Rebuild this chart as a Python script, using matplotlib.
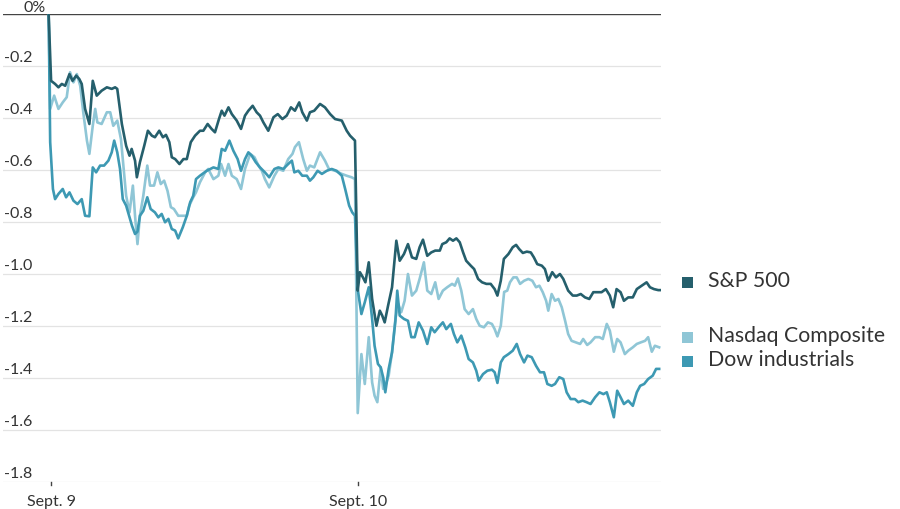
import matplotlib
matplotlib.use("Agg")
import matplotlib.pyplot as plt
from matplotlib.patches import Rectangle
import matplotlib.transforms as mtransforms

# ---------------- data (x in trading days from Sept. 9 open, y in % change) ----------------
sp_x = [-0.009, -0.001, 0.012, 0.023, 0.034, 0.045, 0.059, 0.069, 0.081, 0.091, 0.099, 0.110, 0.124,
        0.135, 0.148, 0.164, 0.181, 0.197, 0.208, 0.215, 0.230, 0.244, 0.255, 0.262, 0.273, 0.279,
        0.289, 0.303, 0.315, 0.328, 0.338, 0.352, 0.364, 0.374, 0.385, 0.393, 0.404, 0.418, 0.431,
        0.442, 0.455, 0.469, 0.485, 0.496, 0.510, 0.523, 0.534, 0.547, 0.556, 0.565, 0.578, 0.589,
        0.605, 0.619, 0.632, 0.643, 0.657, 0.670, 0.681, 0.692, 0.708, 0.725, 0.739, 0.754, 0.768,
        0.782, 0.795, 0.809, 0.819, 0.834, 0.844, 0.858, 0.877, 0.893, 0.910, 0.926, 0.948, 0.964,
        0.975, 0.991,
        1.000, 1.007, 1.017, 1.025, 1.036, 1.047, 1.061, 1.072, 1.080, 1.088, 1.099, 1.112, 1.126,
        1.137, 1.151, 1.164, 1.177, 1.191, 1.202, 1.213, 1.227, 1.240, 1.253, 1.268, 1.276, 1.289,
        1.300, 1.311, 1.322, 1.333, 1.344, 1.354, 1.369, 1.380, 1.393, 1.406, 1.420, 1.434, 1.447,
        1.456, 1.467, 1.477, 1.492, 1.506, 1.517, 1.527, 1.539, 1.552, 1.565, 1.575, 1.586, 1.601,
        1.611, 1.622, 1.635, 1.647, 1.660, 1.671, 1.687, 1.702, 1.715, 1.728, 1.742, 1.756, 1.769,
        1.785, 1.796, 1.810, 1.823, 1.834, 1.845, 1.858, 1.869, 1.883, 1.898, 1.911, 1.927, 1.943,
        1.954, 1.967, 1.981, 1.987]
sp_y = [0.0, -0.257, -0.269, -0.282, -0.269, -0.276, -0.231, -0.257, -0.237, -0.250, -0.269, -0.365,
        -0.423, -0.257, -0.314, -0.295, -0.282, -0.288, -0.282, -0.288, -0.423, -0.507, -0.545,
        -0.519, -0.564, -0.628, -0.570, -0.507, -0.449, -0.468, -0.474, -0.449, -0.474, -0.465,
        -0.493, -0.551, -0.558, -0.577, -0.558, -0.558, -0.493, -0.468, -0.449, -0.449, -0.423,
        -0.442, -0.455, -0.404, -0.372, -0.391, -0.359, -0.385, -0.410, -0.442, -0.391, -0.372,
        -0.353, -0.378, -0.391, -0.417, -0.449, -0.397, -0.385, -0.404, -0.391, -0.359, -0.372,
        -0.340, -0.378, -0.410, -0.378, -0.372, -0.346, -0.359, -0.385, -0.404, -0.410, -0.449,
        -0.468, -0.487,
        -1.064, -0.993, -1.013, -1.032, -0.955, -1.096, -1.199, -1.141, -1.160, -1.186, -1.122,
        -1.051, -0.872, -0.949, -0.923, -0.885, -0.936, -0.942, -0.897, -0.868, -0.930, -0.917,
        -0.910, -0.910, -0.885, -0.878, -0.863, -0.872, -0.863, -0.878, -0.917, -0.949, -0.968,
        -0.981, -1.019, -1.032, -1.038, -1.038, -1.058, -1.083, -1.026, -0.942, -0.923, -0.897,
        -0.888, -0.904, -0.919, -0.914, -0.917, -0.936, -0.962, -0.968, -0.981, -1.026, -0.993,
        -1.013, -1.000, -1.019, -1.064, -1.083, -1.083, -1.077, -1.090, -1.096, -1.070, -1.070,
        -1.070, -1.058, -1.083, -1.128, -1.058, -1.070, -1.103, -1.090, -1.090, -1.058, -1.045,
        -1.032, -1.051, -1.058, -1.062, -1.062]

nasdaq_x = [-0.009, -0.004, 0.009, 0.023, 0.037, 0.050, 0.061, 0.072, 0.083, 0.094, 0.104, 0.116,
            0.124, 0.135, 0.143, 0.150, 0.164, 0.181, 0.192, 0.202, 0.215, 0.227, 0.235, 0.244,
            0.255, 0.266, 0.273, 0.281, 0.289, 0.300, 0.313, 0.322, 0.335, 0.346, 0.357, 0.368,
            0.379, 0.390, 0.400, 0.414, 0.429, 0.442, 0.450, 0.463, 0.472, 0.485, 0.502, 0.512,
            0.529, 0.545, 0.554, 0.567, 0.578, 0.589, 0.605, 0.619, 0.632, 0.649, 0.663, 0.676,
            0.687, 0.697, 0.711, 0.728, 0.741, 0.757, 0.773, 0.787, 0.795, 0.808, 0.822, 0.834,
            0.844, 0.858, 0.877, 0.893, 0.906, 0.926, 0.948, 0.964, 0.980, 0.991,
            1.000, 1.012, 1.023, 1.036, 1.047, 1.055, 1.064, 1.075, 1.083, 1.090, 1.101, 1.112,
            1.123, 1.132, 1.142, 1.153, 1.164, 1.177, 1.191, 1.202, 1.216, 1.227, 1.240, 1.253,
            1.264, 1.278, 1.292, 1.308, 1.317, 1.327, 1.338, 1.349, 1.362, 1.376, 1.387, 1.398,
            1.412, 1.425, 1.438, 1.447, 1.456, 1.467, 1.478, 1.488, 1.497, 1.508, 1.519, 1.530,
            1.543, 1.557, 1.570, 1.582, 1.593, 1.604, 1.615, 1.622, 1.633, 1.644, 1.655, 1.666,
            1.677, 1.687, 1.698, 1.712, 1.726, 1.736, 1.749, 1.760, 1.775, 1.789, 1.800, 1.813,
            1.823, 1.836, 1.847, 1.858, 1.872, 1.883, 1.898, 1.911, 1.924, 1.938, 1.948, 1.960,
            1.970, 1.984]
nasdaq_y = [0.0, -0.365, -0.314, -0.365, -0.340, -0.320, -0.224, -0.263, -0.231, -0.276, -0.378,
            -0.487, -0.538, -0.430, -0.365, -0.417, -0.423, -0.378, -0.378, -0.430, -0.410, -0.481,
            -0.583, -0.699, -0.763, -0.660, -0.776, -0.885, -0.776, -0.699, -0.583, -0.660, -0.660,
            -0.609, -0.654, -0.641, -0.680, -0.743, -0.750, -0.776, -0.776, -0.776, -0.737, -0.705,
            -0.686, -0.647, -0.609, -0.596, -0.635, -0.622, -0.577, -0.622, -0.577, -0.622, -0.635,
            -0.673, -0.596, -0.538, -0.551, -0.583, -0.603, -0.635, -0.667, -0.622, -0.596, -0.603,
            -0.558, -0.538, -0.512, -0.493, -0.558, -0.603, -0.583, -0.590, -0.532, -0.564, -0.596,
            -0.603, -0.615, -0.622, -0.628, -0.635,
            -1.535, -1.308, -1.423, -1.243, -1.417, -1.468, -1.493, -1.359, -1.442, -1.430, -1.391,
            -1.301, -1.173, -1.115, -1.147, -1.103, -1.000, -1.083, -1.064, -1.019, -0.955, -1.064,
            -1.077, -1.032, -1.096, -1.064, -1.051, -1.038, -1.045, -1.017, -1.064, -1.135, -1.154,
            -1.135, -1.173, -1.199, -1.205, -1.186, -1.192, -1.212, -1.240, -1.199, -1.069, -1.064,
            -1.032, -1.013, -1.013, -1.038, -1.026, -1.019, -1.026, -1.051, -1.045, -1.070, -1.103,
            -1.141, -1.077, -1.103, -1.096, -1.128, -1.180, -1.231, -1.257, -1.263, -1.269, -1.250,
            -1.273, -1.263, -1.243, -1.243, -1.250, -1.192, -1.218, -1.299, -1.250, -1.263, -1.308,
            -1.295, -1.282, -1.269, -1.263, -1.257, -1.243, -1.299, -1.276, -1.282]

dow_x = [-0.009, -0.004, 0.005, 0.012, 0.023, 0.037, 0.048, 0.059, 0.072, 0.085, 0.099, 0.110, 0.124,
         0.135, 0.146, 0.159, 0.172, 0.186, 0.197, 0.205, 0.215, 0.224, 0.233, 0.244, 0.255, 0.263,
         0.273, 0.281, 0.289, 0.300, 0.313, 0.324, 0.338, 0.349, 0.360, 0.371, 0.382, 0.393, 0.404,
         0.414, 0.429, 0.442, 0.453, 0.463, 0.472, 0.485, 0.507, 0.529, 0.545, 0.556, 0.567, 0.581,
         0.594, 0.608, 0.619, 0.632, 0.643, 0.654, 0.667, 0.681, 0.697, 0.711, 0.728, 0.741, 0.757,
         0.773, 0.785, 0.793, 0.806, 0.819, 0.834, 0.844, 0.855, 0.869, 0.883, 0.899, 0.915, 0.931,
         0.948, 0.959, 0.972, 0.982, 0.991,
         1.000, 1.003, 1.012, 1.023, 1.036, 1.047, 1.055, 1.066, 1.075, 1.083, 1.090, 1.101, 1.112,
         1.123, 1.129, 1.137, 1.151, 1.164, 1.175, 1.186, 1.199, 1.213, 1.227, 1.240, 1.251, 1.268,
         1.278, 1.289, 1.304, 1.314, 1.325, 1.338, 1.351, 1.362, 1.376, 1.387, 1.395, 1.409, 1.423,
         1.438, 1.447, 1.456, 1.467, 1.477, 1.492, 1.506, 1.519, 1.530, 1.543, 1.554, 1.568, 1.582,
         1.595, 1.608, 1.619, 1.633, 1.644, 1.658, 1.671, 1.682, 1.695, 1.709, 1.720, 1.734, 1.747,
         1.760, 1.775, 1.789, 1.802, 1.813, 1.823, 1.836, 1.847, 1.858, 1.869, 1.883, 1.898, 1.911,
         1.922, 1.935, 1.948, 1.963, 1.974, 1.984]
dow_y = [0.0, -0.493, -0.673, -0.712, -0.692, -0.673, -0.705, -0.686, -0.718, -0.731, -0.712, -0.776,
         -0.778, -0.590, -0.609, -0.583, -0.583, -0.564, -0.532, -0.487, -0.532, -0.596, -0.712,
         -0.737, -0.782, -0.814, -0.846, -0.837, -0.776, -0.757, -0.705, -0.750, -0.763, -0.782,
         -0.769, -0.801, -0.788, -0.827, -0.833, -0.863, -0.820, -0.776, -0.724, -0.699, -0.635,
         -0.622, -0.603, -0.590, -0.596, -0.519, -0.526, -0.487, -0.526, -0.558, -0.603, -0.558,
         -0.532, -0.545, -0.570, -0.590, -0.609, -0.628, -0.596, -0.590, -0.596, -0.577, -0.564,
         -0.609, -0.603, -0.622, -0.622, -0.641, -0.628, -0.603, -0.615, -0.603, -0.596, -0.603,
         -0.622, -0.673, -0.737, -0.763, -0.776,
         -1.058, -1.083, -1.154, -1.109, -1.051, -1.173, -1.276, -1.346, -1.359, -1.397, -1.455,
         -1.365, -1.301, -1.180, -1.064, -1.160, -1.173, -1.180, -1.243, -1.243, -1.186, -1.218,
         -1.269, -1.205, -1.224, -1.199, -1.186, -1.212, -1.192, -1.231, -1.263, -1.237, -1.282,
         -1.327, -1.340, -1.372, -1.410, -1.385, -1.372, -1.368, -1.378, -1.419, -1.340, -1.320,
         -1.308, -1.295, -1.269, -1.308, -1.340, -1.314, -1.320, -1.353, -1.378, -1.378, -1.423,
         -1.430, -1.423, -1.397, -1.404, -1.455, -1.481, -1.481, -1.493, -1.487, -1.493, -1.500,
         -1.474, -1.455, -1.462, -1.455, -1.493, -1.551, -1.449, -1.474, -1.500, -1.487, -1.507,
         -1.455, -1.430, -1.423, -1.404, -1.391, -1.365, -1.365]

y_ticks = [0.0, -0.2, -0.4, -0.6, -0.8, -1.0, -1.2, -1.4, -1.6, -1.8]
y_tick_labels = ["0%", "-0.2", "-0.4", "-0.6", "-0.8", "-1.0", "-1.2", "-1.4", "-1.6", "-1.8"]
x_ticks = [0, 1]
x_tick_labels = ["Sept. 9", "Sept. 10"]
series_names = ["S&P 500", "Nasdaq Composite", "Dow industrials"]

# ---------------- styling ----------------
C_SP = "#255f6c"
C_NQ = "#8fc6d6"
C_DOW = "#3d99b3"
TXT = "#333333"
plt.rcParams["font.family"] = ["Lato", "DejaVu Sans"]

W, H = 900, 510
fig = plt.figure(figsize=(W / 100, H / 100), dpi=100)
ax = fig.add_axes([3 / W, 1 - 483 / H, 658 / W, 468 / H])
ax.set_xlim(-0.158, 1.99)
ax.set_ylim(-1.8, 0)
ax.axis("off")

for v in y_ticks[1:]:
    ax.axhline(v, color="#e3e3e3", lw=0.9, zorder=0)
ax.axhline(0, color="#444444", lw=1.0, zorder=1)

ax.plot(nasdaq_x, nasdaq_y, color=C_NQ, lw=1.9, solid_joinstyle="round", zorder=3)
ax.plot(dow_x, dow_y, color=C_DOW, lw=1.9, solid_joinstyle="round", zorder=4)
ax.plot(sp_x, sp_y, color=C_SP, lw=1.9, solid_joinstyle="round", zorder=5)

# y labels sitting above the gridlines
blend = mtransforms.blended_transform_factory(fig.transFigure, ax.transData)
for v, lab in zip(y_ticks, y_tick_labels):
    xpos = 23 / W if lab.endswith("%") else 4 / W
    dy = 0 if lab.endswith("%") else 2
    off = mtransforms.offset_copy(blend, fig=fig, x=0, y=dy, units="dots")
    ax.text(xpos, v, lab, transform=off, ha="left", va="bottom",
            fontsize=11.5, color=TXT, clip_on=False)

# x ticks and labels
for xv, lab in zip(x_ticks, x_tick_labels):
    ax.plot([xv, xv], [-1.8, -1.812], color="#444444", lw=1.0, clip_on=False)
    ax.annotate(lab, xy=(xv, -1.8), xycoords="data", xytext=(0, -19),
                textcoords="offset pixels", ha="center", va="center",
                fontsize=11.5, color=TXT, annotation_clip=False)

# legend
legend_items = [(series_names[0], C_SP, 283), (series_names[1], C_NQ, 338), (series_names[2], C_DOW, 362)]
for name, col, yc in legend_items:
    fig.add_artist(Rectangle((682 / W, 1 - (yc + 5.5) / H), 11 / W, 11 / H,
                             transform=fig.transFigure, color=col, lw=0))
    fig.text(708 / W, 1 - (yc - 2) / H, name, ha="left", va="center",
             fontsize=15.3, color=TXT)

fig.savefig("out.png", dpi=100)
